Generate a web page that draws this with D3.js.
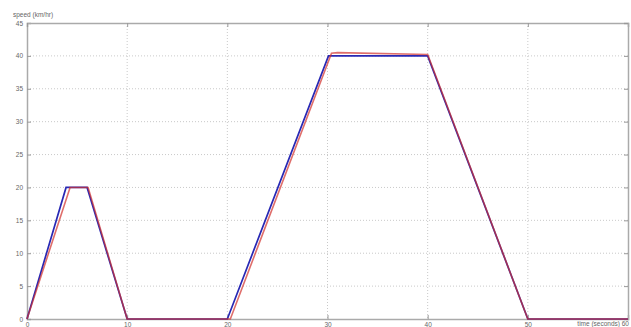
<!DOCTYPE html>
<html lang="en">
<head>
    <meta charset="UTF-8">
    <script src="https://cdnjs.cloudflare.com/ajax/libs/d3/7.8.5/d3.min.js"></script>
    <title>speed</title>
    <style>
        body { margin: 0; background: #fff; }
        text { font-family: "Liberation Sans", Arial, sans-serif; fill: #666; }
    </style>
</head>
<body>
    <svg width="631" height="327"></svg>
    <script>
        // data
        const blueTime  = [0, 3.9, 6, 10, 20, 30.1, 40, 50, 60];
        const blueSpeed = [0, 20, 20, 0, 0, 40, 40, 0, 0];
        const redTime   = [0, 4.3, 6.1, 10, 20.3, 30.4, 31, 40, 50, 60];
        const redSpeed  = [0, 20, 20, 0, 0, 40.4, 40.5, 40.2, 0, 0];
        const xTicks = [0, 10, 20, 30, 40, 50, 60];
        const yTicks = [0, 5, 10, 15, 20, 25, 30, 35, 40, 45];

        const margin = { left: 27, top: 23, right: 3, bottom: 8 };
        const svg = d3.select('svg');
        const width = +svg.attr('width') - margin.left - margin.right;
        const height = +svg.attr('height') - margin.top - margin.bottom;

        const x = d3.scaleLinear().domain([0, 60]).range([0, width]);
        const y = d3.scaleLinear().domain([0, 45]).range([height, 0]);

        const g = svg.append('g')
            .attr('transform', `translate(${margin.left},${margin.top})`);

        // grid
        g.append('g').selectAll('line')
            .data(xTicks.slice(1, -1))
            .enter().append('line')
            .attr('x1', d => x(d)).attr('x2', d => x(d))
            .attr('y1', 0).attr('y2', height)
            .attr('stroke', '#bbb').attr('stroke-width', 0.8)
            .attr('stroke-dasharray', '1,2');
        g.append('g').selectAll('line')
            .data(yTicks.slice(1, -1))
            .enter().append('line')
            .attr('y1', d => y(d)).attr('y2', d => y(d))
            .attr('x1', 0).attr('x2', width)
            .attr('stroke', '#bbb').attr('stroke-width', 0.8)
            .attr('stroke-dasharray', '1,2');

        // axes with inward ticks
        const xAxis = d3.axisBottom(x).tickValues(xTicks).tickSize(-4).tickPadding(3)
            .tickFormat(d => d === 60 ? '' : d);
        const yAxis = d3.axisLeft(y).tickValues(yTicks).tickSize(-4).tickPadding(4);

        g.append('g').attr('transform', `translate(0,${height})`).call(xAxis);
        g.append('g').call(yAxis);
        g.append('g').call(d3.axisTop(x).tickValues(xTicks).tickSize(-4).tickFormat(''));
        g.append('g').attr('transform', `translate(${width},0)`)
            .call(d3.axisRight(y).tickValues(yTicks).tickSize(-4).tickFormat(''));

        g.selectAll('.domain').attr('stroke', '#aaa').attr('stroke-width', 1.5);
        g.selectAll('.tick line').attr('stroke', '#999');
        g.selectAll('.tick text').style('font-size', '6.5px').attr('fill', '#666');

        // lines
        const line = d3.line().x(d => x(d[0])).y(d => y(d[1]));
        g.append('path')
            .attr('d', line(d3.zip(blueTime, blueSpeed)))
            .attr('fill', 'none').attr('stroke', '#2828b4').attr('stroke-width', 1.7);
        g.append('path')
            .attr('d', line(d3.zip(redTime, redSpeed)))
            .attr('fill', 'none').attr('stroke', '#d2302c').attr('stroke-width', 1.6)
            .attr('stroke-opacity', 0.7);

        // labels
        svg.append('text').attr('x', 13).attr('y', 17)
            .style('font-size', '6.5px').text('speed (km/hr)');
        svg.append('text').attr('x', 629).attr('y', 326)
            .attr('text-anchor', 'end')
            .style('font-size', '6.5px').text('time (seconds) 60');
    </script>
</body>
</html>
